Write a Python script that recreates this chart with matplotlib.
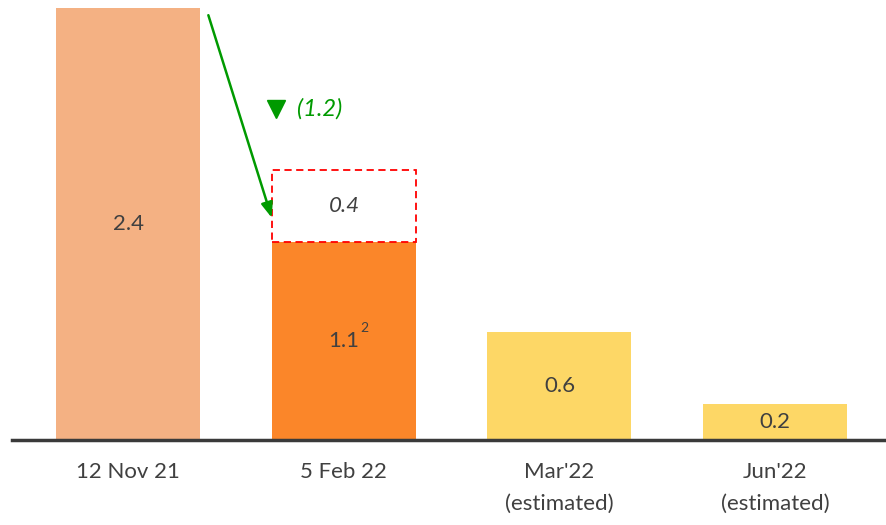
import matplotlib.pyplot as plt

plt.rcParams['font.family'] = ['Lato', 'DejaVu Sans']

# bar data
periods = ["12 Nov 21", "5 Feb 22", "Mar'22\n(estimated)", "Jun'22\n(estimated)"]
values = [2.4, 1.1, 0.6, 0.2]
labels = ["2.4", "1.1", "0.6", "0.2"]
colors = ["#F4B183", "#FB8629", "#FDD766", "#FDD766"]
extra_value = 0.4      # dashed portion stacked on 5 Feb 22
change_label = "(1.2)"

text_color = "#404040"
green = "#009A00"

fig = plt.figure(figsize=(8.86, 5.25), dpi=100)
ax = fig.add_axes([12 / 886, 85 / 525, 874 / 886, 432 / 525])

x = list(range(len(periods)))
ax.bar(x, values, width=0.668, color=colors, zorder=2)

# dashed box on top of the second bar
ax.bar(1, extra_value, bottom=values[1], width=0.668, fill=False,
       edgecolor="#FF0000", linestyle=(0, (4, 2.5)), linewidth=1.3, zorder=3)
ax.text(1, values[1] + extra_value / 2, f"{extra_value}", ha="center", va="center",
        fontsize=16, style="italic", color=text_color)

# value labels in the middle of each bar
for xi, v, lab in zip(x, values, labels):
    ax.text(xi, v / 2, lab, ha="center", va="center", fontsize=16, color=text_color)
ax.annotate("2", xy=(1, values[1] / 2), xytext=(15, 9), textcoords="offset points",
            ha="center", va="center", fontsize=10, color=text_color)

# green arrow showing the drop
ax.annotate("", xy=(0.665, 1.235), xytext=(0.371, 2.36),
            arrowprops=dict(arrowstyle="-|>,head_length=0.9,head_width=0.35",
                            color=green, lw=1.8, shrinkA=0, shrinkB=0))
ax.plot(0.687, 1.84, marker="v", markersize=13, color=green, clip_on=False)
ax.text(0.78, 1.84, change_label, ha="left", va="center", fontsize=17,
        style="italic", color=green)

ax.set_xlim(-0.54, 3.515)
ax.set_ylim(0, 2.4)
ax.set_xticks(x)
ax.set_xticklabels(periods, fontsize=16, color=text_color, linespacing=1.75, va="top")
ax.tick_params(axis="x", length=0, pad=16)
ax.set_yticks([])
for s in ["top", "right", "left"]:
    ax.spines[s].set_visible(False)
ax.spines["bottom"].set_color("#3A3A3A")
ax.spines["bottom"].set_linewidth(2.5)
ax.spines["bottom"].set_zorder(4)

fig.savefig("out.png", dpi=100)
